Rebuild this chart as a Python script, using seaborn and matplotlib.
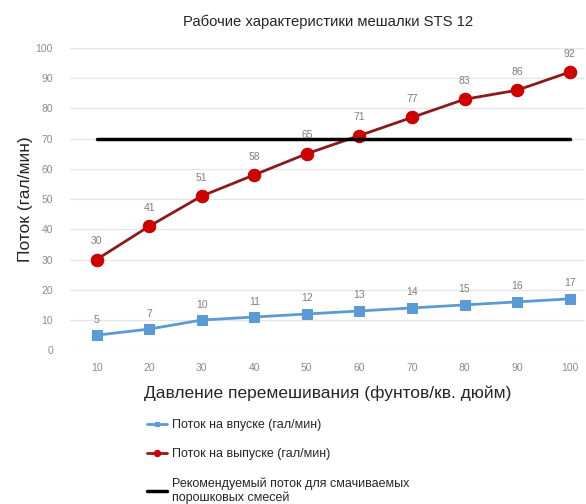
import numpy as np
import pandas as pd
import matplotlib
matplotlib.use("Agg")
import matplotlib.pyplot as plt
import seaborn as sns

pressure = [10, 20, 30, 40, 50, 60, 70, 80, 90, 100]
inlet_flow = [5, 7, 10, 11, 12, 13, 14, 15, 16, 17]
outlet_flow = [30, 41, 51, 58, 65, 71, 77, 83, 86, 92]
recommended = [70, 70, 70, 70, 70, 70, 70, 70, 70, 70]
y_ticks = [0, 10, 20, 30, 40, 50, 60, 70, 80, 90, 100]

lbl_in = "Поток на впуске (гал/мин)"
lbl_out = "Поток на выпуске (гал/мин)"
lbl_rec = "Рекомендуемый поток для смачиваемых\nпорошковых смесей"

sns.set_style("white")
plt.rcParams['font.family'] = ['Liberation Sans', 'DejaVu Sans']

fig = plt.figure(figsize=(5.86, 5.04), dpi=100)
ax = fig.add_axes([0.119, 0.305, 0.88, 0.6])

df = pd.DataFrame({'p': pressure, 'inlet': inlet_flow, 'outlet': outlet_flow, 'rec': recommended})

sns.lineplot(data=df, x='p', y='inlet', ax=ax, color='#5b9bd5', marker='s', markersize=7,
             markeredgecolor='#5b9bd5', linewidth=2, label=lbl_in)
sns.lineplot(data=df, x='p', y='outlet', ax=ax, color='#8b1a1a', marker='o', markersize=9,
             markerfacecolor='#d00000', markeredgecolor='#c00000', linewidth=2, label=lbl_out)
sns.lineplot(data=df, x='p', y='rec', ax=ax, color='black', linewidth=2.5, label=lbl_rec)

for x, y in zip(pressure, inlet_flow):
    ax.annotate(str(y), (x, y), xytext=(0, 9), textcoords='offset points', ha='center',
                fontsize=7.5, color='#7f7f7f')
for x, y in zip(pressure, outlet_flow):
    ax.annotate(str(y), (x, y), xytext=(0, 11), textcoords='offset points', ha='center',
                fontsize=7.5, color='#7f7f7f')

ax.set_xlim(4.9, 103)
ax.set_ylim(0, 100)
ax.set_xticks(pressure)
ax.set_yticks(y_ticks)
ax.tick_params(axis='both', labelsize=7.5, labelcolor='#8c8c8c', length=0)
ax.tick_params(axis='y', pad=12)
ax.tick_params(axis='x', pad=9)
ax.yaxis.grid(True, color='#e6e6e6', linewidth=1)
ax.xaxis.grid(False)
sns.despine(ax=ax, left=True, bottom=True)

ax.set_title("Рабочие характеристики мешалки STS 12", fontsize=10.7, pad=16)
ax.set_ylabel("Поток (гал/мин)", fontsize=12.5, labelpad=2)
ax.set_xlabel("Давление перемешивания (фунтов/кв. дюйм)", fontsize=12.5, labelpad=9)

ax.get_legend().remove()
h, l = ax.get_legend_handles_labels()
fig.legend(h, l, loc='upper left', bbox_to_anchor=(0.232, 0.19), frameon=False, fontsize=9,
           markerscale=0.5, handlelength=1.6, handletextpad=0.4, labelspacing=1.35)

fig.savefig("out.png", dpi=100)
